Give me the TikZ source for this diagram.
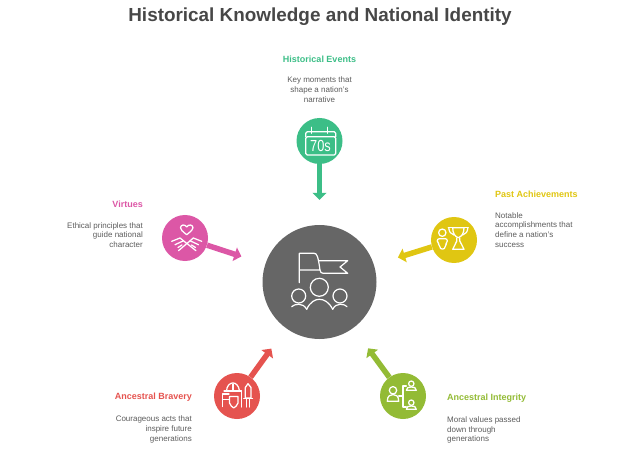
\documentclass[tikz,border=0pt]{standalone}
\usepackage{fontspec}
\setmainfont{Liberation Sans}
\usetikzlibrary{positioning,arrows.meta}
\definecolor{evgreen}{HTML}{3CBE87}
\definecolor{pastyellow}{HTML}{E0C612}
\definecolor{virtpink}{HTML}{DC57A6}
\definecolor{bravered}{HTML}{E5534F}
\definecolor{integlime}{HTML}{93BB35}
\definecolor{hubgray}{HTML}{666666}
\definecolor{bodygray}{HTML}{5C5C5C}
\begin{document}
\begin{tikzpicture}[x=1pt,y=-1pt,
  spot/.style={circle,fill=#1,minimum size=46pt,inner sep=0pt},
  conn/.style={-{Triangle[width=14pt,length=7pt]},line width=5.5pt,draw=#1,shorten >=25pt},
  head/.style={font=\fontsize{9}{11}\selectfont\bfseries,text=#1,inner sep=0pt},
  body/.style={font=\fontsize{8}{9.7}\selectfont,text=bodygray,inner sep=0pt},
  icon/.style={draw=white,line width=1.2pt,line join=round,line cap=round},
  thinicon/.style={draw=white,line width=1.25pt,line join=round,line cap=round}]
\useasboundingbox (0,0) rectangle (639,454);
\node[font=\fontsize{18.9}{22}\selectfont\bfseries,text=black!72,inner sep=0pt] (title) at (320,16.5) {Historical Knowledge and National Identity};
\node[circle,fill=hubgray,minimum size=114pt,inner sep=0pt] (hub) at (319.5,282) {};
\node[spot=evgreen] (events) at (319.5,141) {};
\node[spot=pastyellow] (past) at (454,240) {};
\node[spot=virtpink] (virtues) at (185,238) {};
\node[spot=bravered] (bravery) at (237,396) {};
\node[spot=integlime] (integrity) at (403,396) {};
\draw[conn=evgreen] (events) -- (hub);
\draw[conn=pastyellow] (past) -- (hub);
\draw[conn=virtpink] (virtues) -- (hub);
\draw[conn=bravered] (bravery) -- (hub);
\draw[conn=integlime] (integrity) -- (hub);
\node[head=evgreen] (eventshead) at (319.5,59.5) {Historical Events};
\node[body,align=center,below=14pt of eventshead] (eventsbody) {Key moments that\\shape a nation's\\narrative};
\node[head=pastyellow,anchor=west] (pasthead) at (495,194.5) {Past Achievements};
\node[body,align=left,below=14pt of pasthead.south west,anchor=north west] (pastbody) {Notable\\accomplishments that\\define a nation's\\success};
\node[head=virtpink,anchor=east] (virthead) at (143,204.5) {Virtues};
\node[body,align=right,below=14pt of virthead.south east,anchor=north east] (virtbody) {Ethical principles that\\guide national\\character};
\node[head=bravered,anchor=east] (bravehead) at (192,397.5) {Ancestral Bravery};
\node[body,align=right,below=14pt of bravehead.south east,anchor=north east] (bravebody) {Courageous acts that\\inspire future\\generations};
\node[head=integlime,anchor=west] (integhead) at (447,398) {Ancestral Integrity};
\node[body,align=left,below=14pt of integhead.south west,anchor=north west] (integbody) {Moral values passed\\down through\\generations};
\draw[icon] (299.3,282.7) -- (299.3,253.3) -- (314,253.3) .. controls (317,253.3) and (318,256) .. (320,270) -- (299.3,270);
\draw[icon] (318.5,260.7) -- (347.7,260.7) -- (340,267) -- (347.7,273.3) -- (323,273.3) .. controls (321,273.3) and (320.5,272) .. (320,270);
\draw[icon] (319.3,287.3) circle[radius=9];
\draw[icon] (298.7,296) circle[radius=7];
\draw[icon] (340,296) circle[radius=7];
\draw[icon] (306.7,309.3) .. controls (310,302) and (315,299.3) .. (319.3,299.3) .. controls (324,299.3) and (329,302) .. (332.7,309.3);
\draw[icon] (291.7,306.7) .. controls (294,304) and (303,302) .. (306.7,309.3);
\draw[icon] (347,306.7) .. controls (345,304) and (336,302) .. (332.7,309.3);
\draw[icon,rounded corners=1.5pt] (305.7,136.7) rectangle (335.7,155);
\draw[icon,rounded corners=1.5pt] (305.7,136.7) -- (305.7,131.7) -- (335.7,131.7) -- (335.7,136.7);
\draw[icon] (311.7,127.3) -- (311.7,133.3) (327.3,127.3) -- (327.3,133.3);
\node[text=white,font=\fontsize{16}{16}\selectfont,inner sep=0pt,transform shape,xscale=.8] (seventies) at (320.5,146) {70s};
\draw[thinicon] (442.3,232.7) circle[radius=3.7];
\draw[thinicon,rounded corners=2pt] (440,249) -- (440,245) -- (437.3,243) -- (437.3,238.7) -- (447.3,238.7) -- (447.3,243) -- (445,245) -- (445,249) -- cycle;
\draw[thinicon] (452.7,227.7) -- (464,227.7) .. controls (464,233) and (462,236.5) .. (458.3,237.7) .. controls (454.7,236.5) and (452.7,233) .. (452.7,227.7);
\draw[thinicon] (448.3,227.7) -- (468.3,227.7);
\draw[thinicon] (448.8,228) .. controls (449,232) and (451,234) .. (454,235);
\draw[thinicon] (467.8,228) .. controls (467.6,232) and (465.6,234) .. (462.6,235);
\draw[thinicon] (456.8,238) -- (456.8,241) -- (452.7,249.3) -- (464,249.3) -- (459.8,241) -- (459.8,238);
\draw[thinicon] (186.7,234.7) .. controls (182,231) and (180.5,229.5) .. (180.5,227.8) .. controls (180.5,224.5) and (185,224) .. (186.7,227) .. controls (188.4,224) and (193,224.5) .. (193,227.8) .. controls (193,229.5) and (191.4,231) .. (186.7,234.7);
\draw[thinicon] (180,238) -- (196,250.7) (193.3,238) -- (178.5,250.7);
\draw[thinicon] (171.7,241.3) -- (180,238) (175,244.7) -- (183,241) (178,247.5) -- (182,245);
\draw[thinicon] (201.7,241.3) -- (193.3,238) (198.5,244.7) -- (190.5,241) (195.5,247.5) -- (191.5,245);
\draw[thinicon] (248,383.7) -- (251,387.5) -- (251,398) -- (245.3,398) -- (245.3,387.5) -- cycle;
\draw[thinicon] (243.7,398.7) -- (252.5,398.7) (246.4,399) -- (246.4,407) (249.7,399) -- (249.7,407);
\draw[thinicon] (226.5,391) .. controls (227,381) and (238,379.5) .. (239.5,391);
\draw[thinicon] (224,391) -- (241.5,391) (233,384) -- (233,391);
\draw[thinicon] (241.5,391) -- (241.5,407) (222.5,394) -- (222.5,406.5) (222.5,394) -- (229,394) (222.5,399.5) -- (228.5,399.5);
\draw[thinicon] (229.5,396.5) -- (238,396.5) -- (238,403) .. controls (237,405.5) and (235.5,407) .. (233.7,408) .. controls (232,407) and (230.5,405.5) .. (229.5,403) -- cycle;
\draw[thinicon] (393,390.3) circle[radius=3.7];
\draw[thinicon] (387.3,401.3) -- (398.7,401.3) .. controls (398.7,396) and (396,394.5) .. (393,394.5) .. controls (390,394.5) and (387.3,396) .. (387.3,401.3) -- cycle;
\draw[thinicon] (398.7,396) -- (403,396) (406.3,386) -- (403,386) -- (403,407) -- (406.3,407);
\draw[thinicon] (411.3,383.7) circle[radius=2.7];
\draw[thinicon] (406.3,390.3) -- (416.3,390.3) .. controls (416.3,387.5) and (414,387) .. (411.3,387) .. controls (408.6,387) and (406.3,387.5) .. (406.3,390.3) -- cycle;
\draw[thinicon] (411.3,402.7) circle[radius=2.7];
\draw[thinicon] (406.3,409.3) -- (416.3,409.3) .. controls (416.3,406.5) and (414,406) .. (411.3,406) .. controls (408.6,406) and (406.3,406.5) .. (406.3,409.3) -- cycle;
\end{tikzpicture}
\end{document}
